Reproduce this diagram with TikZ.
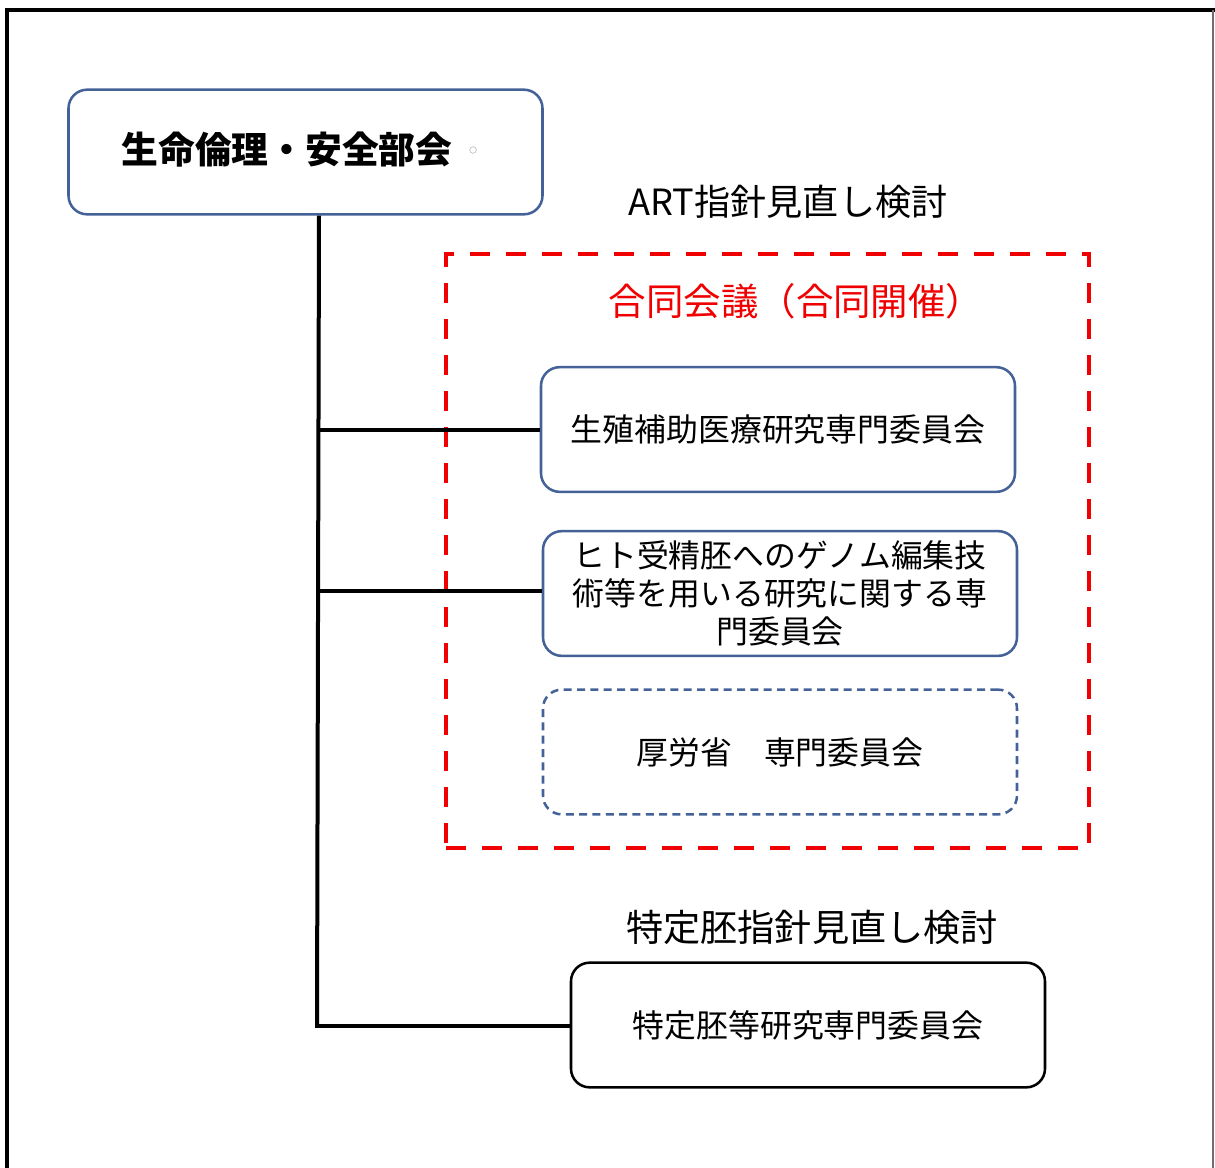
\documentclass[tikz,border=0pt]{standalone}
\usepackage{fontspec}
\setmainfont{Noto Sans CJK JP}
\definecolor{boxblue}{RGB}{68,98,152}
\definecolor{artred}{RGB}{240,0,0}
\definecolor{framegrey}{RGB}{110,110,110}
\tikzset{
  unitbox/.style={draw=boxblue, line width=1.9pt, rounded corners=14pt, minimum width=355.5pt, minimum height=93.5pt, inner sep=0pt, align=center},
  blackbox/.style={unitbox, draw=black},
  dashbox/.style={unitbox, dash pattern=on 6pt off 4pt},
  groupbox/.style={draw=artred, line width=3.4pt, dash pattern=on 15pt off 12pt, minimum width=482pt, minimum height=445.5pt, inner sep=0pt},
  conn/.style={line width=3pt, black},
  bodytext/.style={font=\fontsize{23.9pt}{28.5pt}\selectfont},
}
\begin{document}
\begin{tikzpicture}[x=0.75pt, y=-0.75pt]
\useasboundingbox (0,0) rectangle (1215,1168);
% outer frame
\draw[line width=2.3pt, black] (7,1168) -- (7,10) -- (1215,10);
\draw[line width=1.5pt, framegrey] (1213,10) -- (1213,1168);
% top box
\node[unitbox] (top) at (305.5,152) {};
\node[font=\fontsize{27.6pt}{30pt}\selectfont\bfseries] (toptext) at (287,150) {生命倫理・安全部会};
\node[circle, draw=black!30, line width=0.4pt, minimum size=5pt, inner sep=0pt] (mark) at (473,150) {};
% ART label
\node[font=\fontsize{27.1pt}{30pt}\selectfont] (artlabel) at (788,202) {ART指針見直し検討};
% red group
\node[groupbox] (group) at (767.5,551) {};
\node[font=\fontsize{28.1pt}{30pt}\selectfont, text=artred] (grouplabel) at (796,301) {合同会議（合同開催）};
% committees
\node[unitbox, bodytext] (A) at (778,429.5) {生殖補助医療研究専門委員会};
\node[unitbox, bodytext] (B) at (780,593.5) {ヒト受精胚へのゲノム編集技\\術等を用いる研究に関する専\\門委員会};
\node[dashbox, bodytext] (C) at (780,752) {厚労省　専門委員会};
\node[font=\fontsize{27.9pt}{30pt}\selectfont] (tokuteilabel) at (812,927) {特定胚指針見直し検討};
\node[blackbox, bodytext] (D) at (808,1025) {特定胚等研究専門委員会};
% connectors
\coordinate (jA) at (319,430);
\coordinate (jB) at (318,591);
\coordinate (jD) at (317,1026);
\draw[conn] (top.south -| jA) -- (jD);
\draw[conn] (jA) -- (jA -| A.west);
\draw[conn] (jB) -- (jB -| B.west);
\draw[conn] ([xshift=-1.5pt]jD) -- (jD -| D.west);
\end{tikzpicture}
\end{document}
